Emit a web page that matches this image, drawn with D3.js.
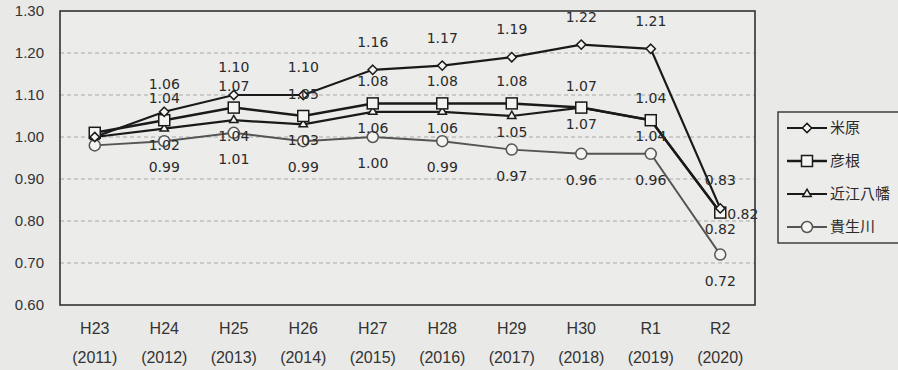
<!DOCTYPE html>
<html>
<head>
<meta charset="utf-8">
<script src="https://cdn.jsdelivr.net/npm/d3@7"></script>
<style>
  html, body { margin: 0; padding: 0; background: #e9e9e7; }
  svg { display: block; }
</style>
</head>
<body>
<svg id="chart" width="898" height="370"></svg>
<script>
// Fiscal years (Japanese era label + western year)
const eraLabels = ["H23", "H24", "H25", "H26", "H27", "H28", "H29", "H30", "R1", "R2"];
const yearLabels = ["(2011)", "(2012)", "(2013)", "(2014)", "(2015)", "(2016)", "(2017)", "(2018)", "(2019)", "(2020)"];

// Index values per station
const maibara     = [1.00, 1.06, 1.10, 1.10, 1.16, 1.17, 1.19, 1.22, 1.21, 0.83];
const hikone      = [1.01, 1.04, 1.07, 1.05, 1.08, 1.08, 1.08, 1.07, 1.04, 0.82];
const omihachiman = [1.00, 1.02, 1.04, 1.03, 1.06, 1.06, 1.05, 1.07, 1.04, 0.82];
const kibukawa    = [0.98, 0.99, 1.01, 0.99, 1.00, 0.99, 0.97, 0.96, 0.96, 0.72];

const seriesNames = ["米原", "彦根", "近江八幡", "貴生川"];
const yTicks = [0.60, 0.70, 0.80, 0.90, 1.00, 1.10, 1.20, 1.30];

const series = [
  { name: seriesNames[0], values: maibara,     marker: "diamond",  color: "#1a1a1a", width: 2.2, labelDy: -28 },
  { name: seriesNames[1], values: hikone,      marker: "square",   color: "#1a1a1a", width: 2.5, labelDy: -22 },
  { name: seriesNames[2], values: omihachiman, marker: "triangle", color: "#1a1a1a", width: 2.2, labelDy: 16 },
  { name: seriesNames[3], values: kibukawa,    marker: "circle",   color: "#555555", width: 1.9, labelDy: 26 }
];

const svg = d3.select("#chart");
const plot = { left: 60, top: 11, right: 755, bottom: 305 };

const x = d3.scaleBand().domain(eraLabels).range([plot.left, plot.right]);
const xc = d => x(d) + x.bandwidth() / 2;
const y = d3.scaleLinear().domain([0.60, 1.30]).range([plot.bottom, plot.top]);

// plot background
svg.append("rect")
  .attr("x", plot.left).attr("y", plot.top)
  .attr("width", plot.right - plot.left).attr("height", plot.bottom - plot.top)
  .attr("fill", "#ececea");

// dashed gridlines
svg.append("g")
  .selectAll("line")
  .data(yTicks.filter(t => t > 0.6 && t < 1.3))
  .join("line")
  .attr("x1", plot.left).attr("x2", plot.right)
  .attr("y1", d => y(d)).attr("y2", d => y(d))
  .attr("stroke", "#a8a8a8")
  .attr("stroke-width", 1)
  .attr("stroke-dasharray", "4,3");

// plot frame
svg.append("rect")
  .attr("x", plot.left).attr("y", plot.top)
  .attr("width", plot.right - plot.left).attr("height", plot.bottom - plot.top)
  .attr("fill", "none")
  .attr("stroke", "#333")
  .attr("stroke-width", 1.6);

// y axis labels
const yAxis = d3.axisLeft(y).tickValues(yTicks).tickFormat(d3.format(".2f")).tickSize(0).tickPadding(16);
const yg = svg.append("g").attr("transform", `translate(${plot.left},0)`).call(yAxis);
yg.select(".domain").remove();
yg.selectAll("text")
  .attr("font-family", "Liberation Sans, Arial, sans-serif")
  .attr("font-size", 15)
  .attr("fill", "#333");

// x axis labels (two lines)
const xAxis = d3.axisBottom(x).tickSize(0).tickFormat(() => "");
const xg = svg.append("g").attr("transform", `translate(0,${plot.bottom})`).call(xAxis);
xg.select(".domain").remove();
xg.selectAll(".tick").each(function(d, i) {
  const t = d3.select(this);
  t.append("text").attr("y", 23).attr("dy", "0.35em").attr("text-anchor", "middle")
    .attr("font-family", "Liberation Sans, Arial, sans-serif").attr("font-size", 16)
    .attr("fill", "#333").text(eraLabels[i]);
  t.append("text").attr("y", 52).attr("dy", "0.35em").attr("text-anchor", "middle")
    .attr("font-family", "Liberation Sans, Arial, sans-serif").attr("font-size", 16)
    .attr("fill", "#333").text(yearLabels[i]);
});

// marker drawing
function drawMarker(sel, type, stroke) {
  let shape;
  if (type === "diamond") {
    shape = sel.append("path").attr("d", d3.symbol(d3.symbolDiamond2, 55)());
  } else if (type === "square") {
    shape = sel.append("rect").attr("x", -5.5).attr("y", -5.5).attr("width", 11).attr("height", 11);
  } else if (type === "triangle") {
    shape = sel.append("path").attr("d", d3.symbol(d3.symbolTriangle2, 50)());
  } else {
    shape = sel.append("circle").attr("r", 5.5);
  }
  shape.attr("fill", "#f4f4f2").attr("stroke", stroke).attr("stroke-width", 1.5);
}

const line = d3.line().x((d, i) => xc(eraLabels[i])).y(d => y(d));

// lines, drawn bottom-most series first
[...series].reverse().forEach(s => {
  svg.append("path")
    .datum(s.values)
    .attr("d", line)
    .attr("fill", "none")
    .attr("stroke", s.color)
    .attr("stroke-width", s.width);
});

// markers
[...series].reverse().forEach(s => {
  const g = svg.append("g");
  s.values.forEach((v, i) => {
    const m = g.append("g").attr("transform", `translate(${xc(eraLabels[i])},${y(v)})`);
    drawMarker(m, s.marker, s.color);
  });
});

// data labels (none for the base year)
series.forEach((s, si) => {
  const g = svg.append("g")
    .attr("font-family", "DejaVu Sans, Verdana, sans-serif")
    .attr("font-size", 14)
    .attr("fill", "#2a2a2a");
  s.values.forEach((v, i) => {
    if (i === 0) return;
    const last = i === s.values.length - 1;
    const t = g.append("text").attr("dy", "0.35em").text(d3.format(".2f")(v));
    if (last && si === 1) {
      t.attr("x", xc(eraLabels[i]) + 7).attr("y", y(v) + 1).attr("text-anchor", "start");
    } else {
      t.attr("x", xc(eraLabels[i])).attr("y", y(v) + s.labelDy).attr("text-anchor", "middle");
    }
  });
});

// legend
const lg = svg.append("g");
lg.append("rect")
  .attr("x", 778).attr("y", 112).attr("width", 130).attr("height", 131)
  .attr("fill", "#ececea").attr("stroke", "#333").attr("stroke-width", 1.4);
series.forEach((s, i) => {
  const ly = 128 + i * 33;
  lg.append("line").attr("x1", 787).attr("x2", 827).attr("y1", ly).attr("y2", ly)
    .attr("stroke", s.color).attr("stroke-width", s.width);
  const m = lg.append("g").attr("transform", `translate(807,${ly})`);
  drawMarker(m, s.marker, s.color);
  lg.append("text").attr("x", 830).attr("y", ly).attr("dy", "0.36em")
    .attr("font-family", "Noto Sans CJK JP, sans-serif").attr("font-size", 15)
    .attr("fill", "#2a2a2a").text(s.name);
});
</script>
</body>
</html>
